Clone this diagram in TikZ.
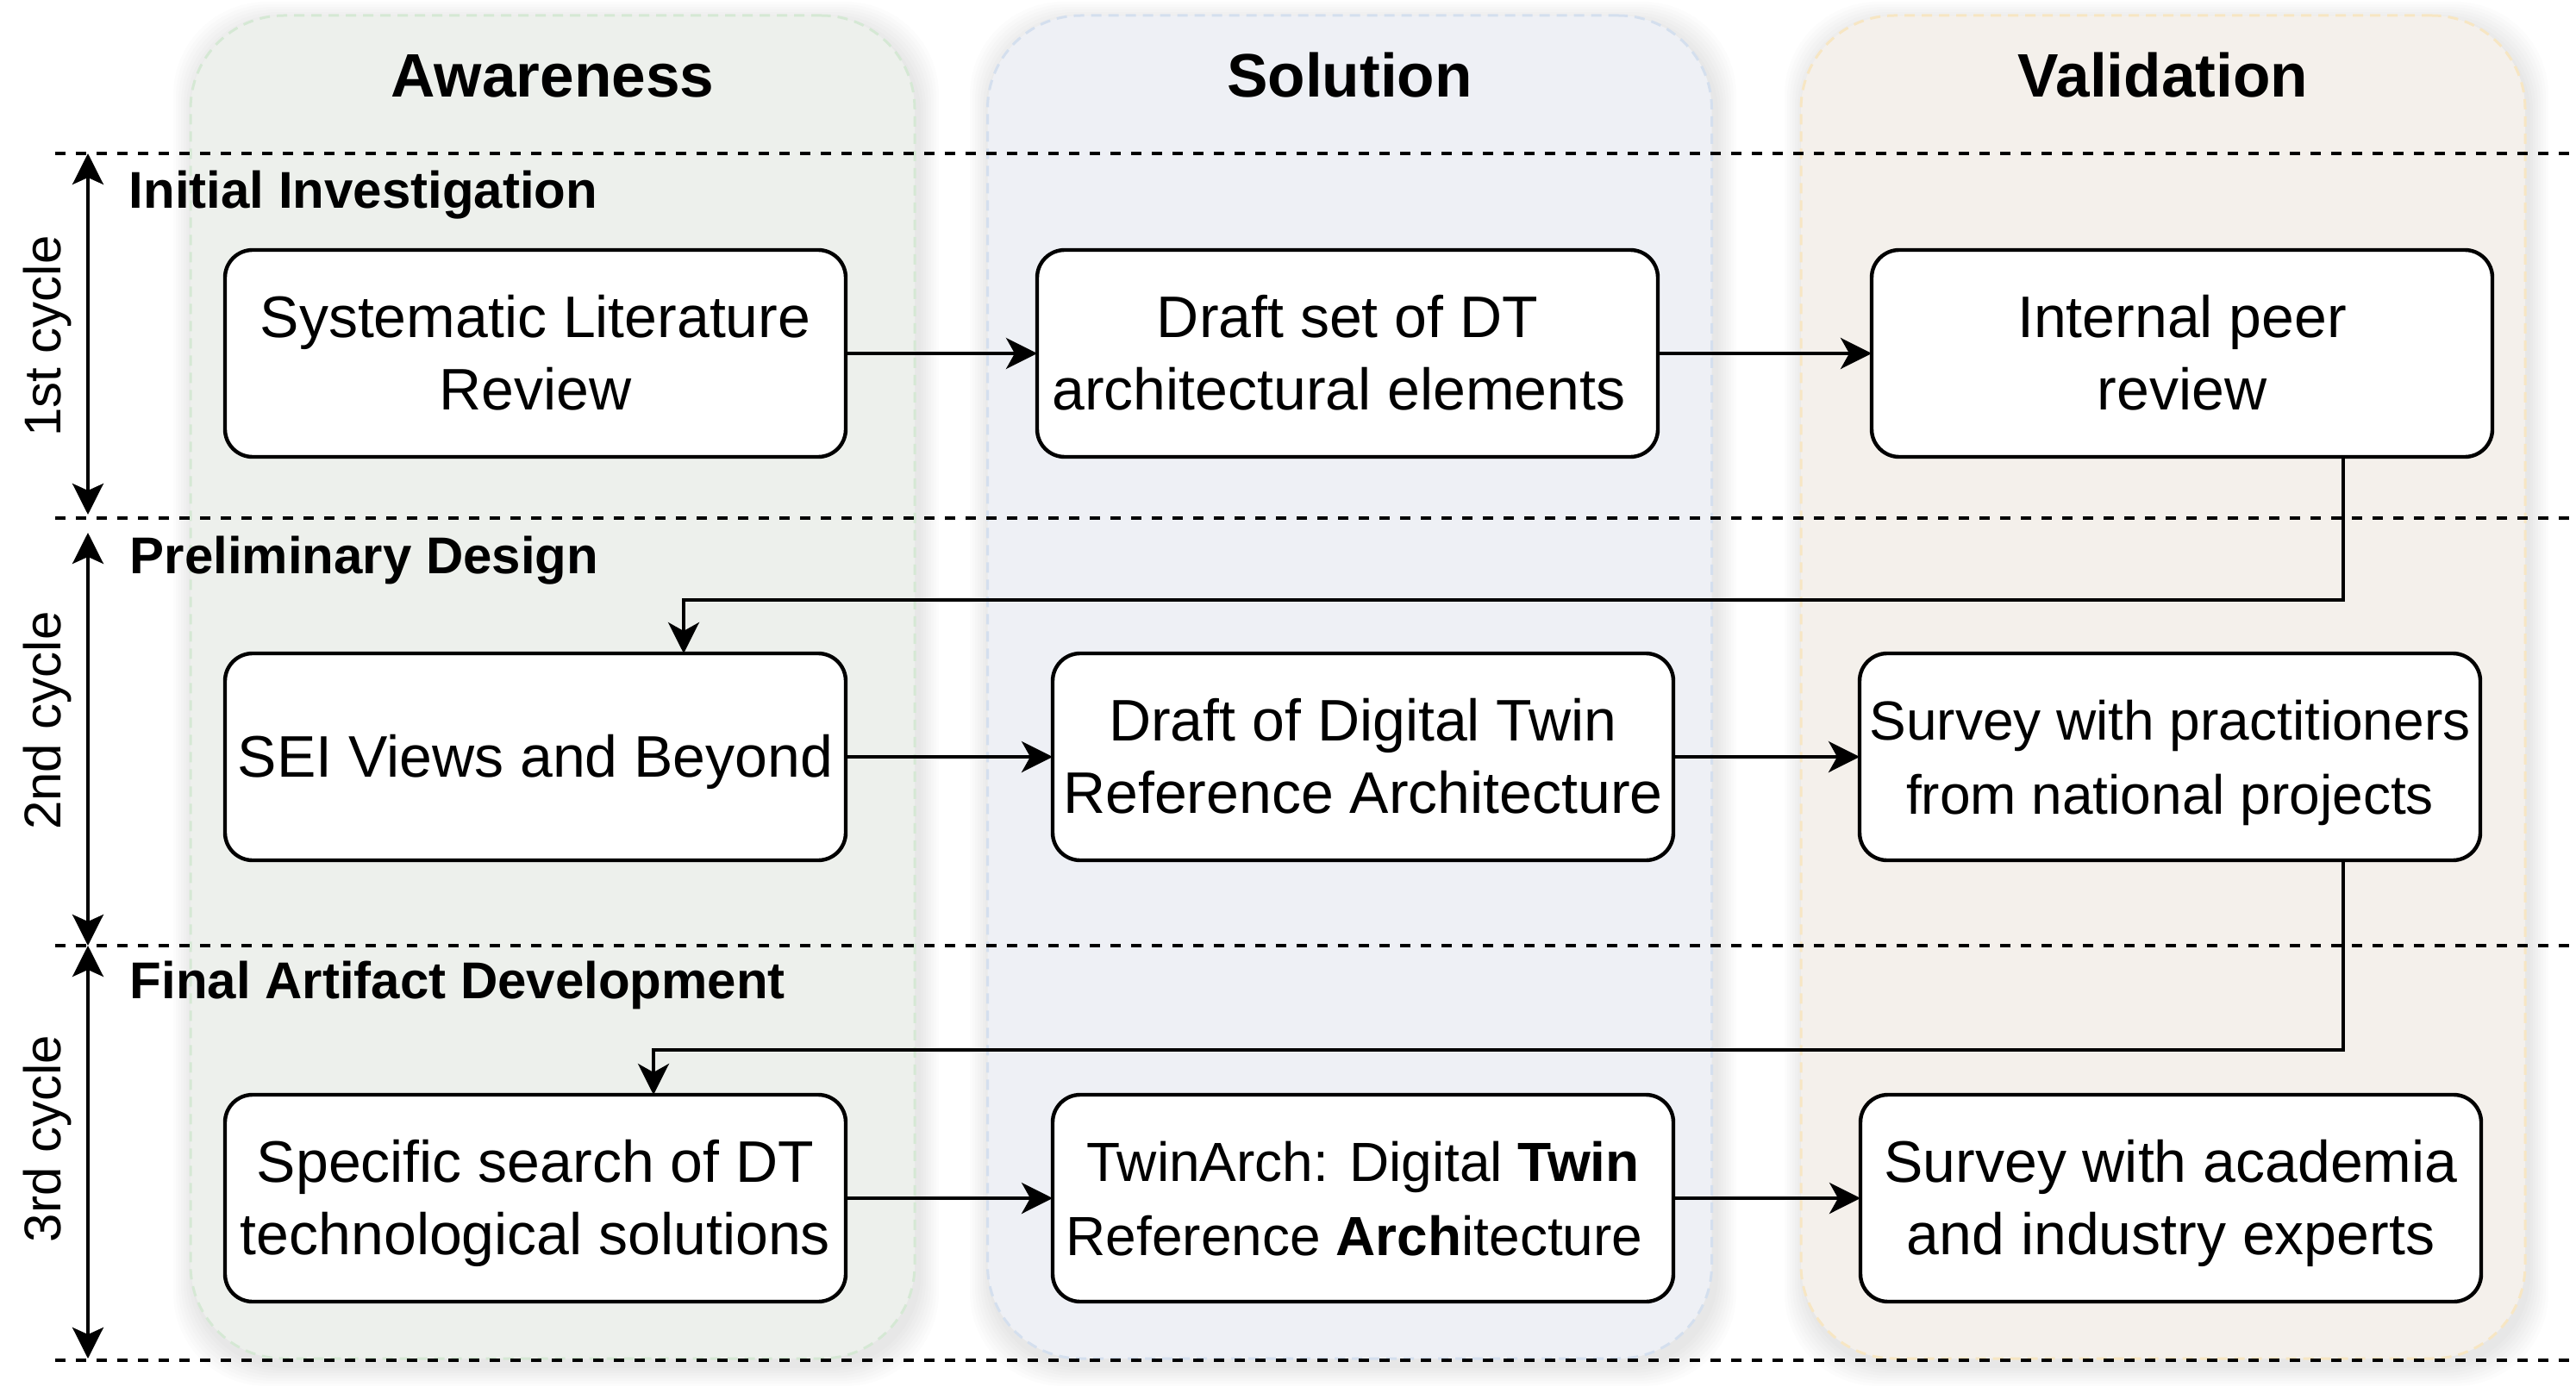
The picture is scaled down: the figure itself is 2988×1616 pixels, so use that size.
\documentclass[tikz,border=0pt]{standalone}
\usepackage{fontspec}
\setmainfont{Liberation Sans}
\usetikzlibrary{arrows.meta,calc}
\definecolor{awFill}{HTML}{EDF0EC}
\definecolor{awLine}{HTML}{D5E8D4}
\definecolor{soFill}{HTML}{EEF0F5}
\definecolor{soLine}{HTML}{D4DFEE}
\definecolor{vaFill}{HTML}{F4F0EB}
\definecolor{vaLine}{HTML}{F7E6C3}
\newcommand\topS{\rule{0pt}{15.5pt}}
\newcommand\botS{\rule[-4pt]{0pt}{4pt}}
\newcommand\colshadow[4]{%
  \foreach \k in {1,...,8}{%
    \fill[black,opacity=0.012,rounded corners=27pt]
      ({#1+4-\k*3},{#2+8-\k*3}) rectangle ({#3+4+\k*3},{#4+8+\k*3});
  }}
\tikzset{
  colbox/.style={rectangle,rounded corners=27pt,dashed,dash pattern=on 3pt off 2pt,
    line width=0.75pt,minimum width=210pt,minimum height=389.5pt,inner sep=0pt,outer sep=0pt},
  head/.style={font=\bfseries\fontsize{17.8}{21}\selectfont,anchor=base,inner sep=0pt},
  rowlab/.style={font=\bfseries\fontsize{15}{18}\selectfont,anchor=base west,inner sep=0pt},
  cyc/.style={font=\fontsize{15}{18}\selectfont,rotate=90,anchor=base,inner sep=0pt},
  sep/.style={line width=1pt,dash pattern=on 3pt off 3pt},
  cycarr/.style={line width=0.9pt,{Stealth[length=9pt,width=9pt,inset=2pt]}-{Stealth[length=9pt,width=9pt,inset=2pt]}},
  stepbox/.style={rectangle,draw,line width=1.1pt,fill=white,rounded corners=8pt,
    minimum width=180pt,minimum height=60pt,inner sep=0pt,outer sep=0pt,align=center,
    font=\fontsize{17}{21}\selectfont},
  smallbox/.style={stepbox,font=\fontsize{16}{21.5}\selectfont},
  conn/.style={line width=1pt,-{Stealth[length=9pt,width=9pt,inset=2.5pt]}},
  plainline/.style={line width=1pt}
}
\begin{document}
\begin{tikzpicture}[x=0.25pt,y=-0.25pt]
\useasboundingbox (0,0) rectangle (2988,1616);
\fill[white] (0,0) rectangle (2988,1616);
% shadows
\colshadow{221}{18}{1061}{1576}
\colshadow{1145}{18}{1986}{1576}
\colshadow{2090}{18}{2928}{1576}
% columns
\node[colbox,fill=awFill,draw=awLine] (colAw) at (641,797) {};
\node[colbox,fill=soFill,draw=soLine] (colSo) at (1565.5,797) {};
\node[colbox,fill=vaFill,draw=vaLine] (colVa) at (2509,797) {};
% headings
\node[head] (hAw) at (641,113) {Awareness};
\node[head] (hSo) at (1565.5,113) {Solution};
\node[head] (hVa) at (2509,113) {Validation};
% separators
\coordinate (s1a) at (64,178);  \coordinate (s1b) at (2988,178);
\coordinate (s2a) at (64,601);  \coordinate (s2b) at (2988,601);
\coordinate (s3a) at (64,1097); \coordinate (s3b) at (2988,1097);
\coordinate (s4a) at (64,1578); \coordinate (s4b) at (2988,1578);
\draw[sep] (s1a) -- (s1b);
\draw[sep] (s2a) -- (s2b);
\draw[sep] (s3a) -- (s3b);
\draw[sep] (s4a) -- (s4b);
% row labels
\node[rowlab] (r1) at (149,241) {Initial Investigation};
\node[rowlab] (r2) at (150,665) {Preliminary Design};
\node[rowlab] (r3) at (150,1158) {Final Artifact Development};
% cycle arrows and labels
\coordinate (a1t) at (102,178);  \coordinate (a1b) at (102,597);
\coordinate (a2t) at (102,618);  \coordinate (a2b) at (102,1097);
\coordinate (a3t) at (102,1097); \coordinate (a3b) at (102,1576);
\draw[cycarr] (a1t) -- (a1b);
\draw[cycarr] (a2t) -- (a2b);
\draw[cycarr] (a3t) -- (a3b);
\node[cyc] (c1) at (70,390) {1st cycle};
\node[cyc] (c2) at (70,836) {2nd cycle};
\node[cyc] (c3) at (70,1321) {3rd cycle};
% boxes
\node[stepbox] (slr) at (621,410) {\topS Systematic Literature\\Review\botS};
\node[stepbox] (dset) at (1563,410) {\topS Draft set of DT\\architectural elements\hspace*{5pt}\botS};
\node[stepbox] (peer) at (2531,410) {\topS Internal peer\\review\botS};
\node[stepbox] (sei) at (621,878) {\topS SEI Views and Beyond\botS};
\node[stepbox] (ddt) at (1581,878) {\topS Draft of Digital Twin\\Reference Architecture\botS};
\node[smallbox] (sur1) at (2517,878) {\topS Survey with practitioners\\from national projects\botS};
\node[stepbox] (spec) at (621,1390) {\topS Specific search of DT\\technological solutions\botS};
\node[smallbox] (twin) at (1581,1390) {\topS TwinArch: Digital \textbf{Twin}\\Reference \textbf{Arch}itecture\hspace*{5pt}\botS};
\node[stepbox] (sur2) at (2518,1390) {\topS Survey with academia\\and industry experts\botS};
% connectors
\draw[conn] (slr.east) -- (dset.west);
\draw[conn] (dset.east) -- (peer.west);
\draw[conn] (sei.east) -- (ddt.west);
\draw[conn] (ddt.east) -- (sur1.west);
\draw[conn] (spec.east) -- (twin.west);
\draw[conn] (twin.east) -- (sur2.west);
\coordinate (k1) at (2718,696);  \coordinate (k2) at (793,696);
\coordinate (k3) at (2718,1218); \coordinate (k4) at (758,1218);
\draw[conn] (peer.south -| k1) -- (k1) -- (k2) -- (sei.north -| k2);
\draw[conn] (sur1.south -| k3) -- (k3) -- (k4) -- (spec.north -| k4);
\end{tikzpicture}
\end{document}
